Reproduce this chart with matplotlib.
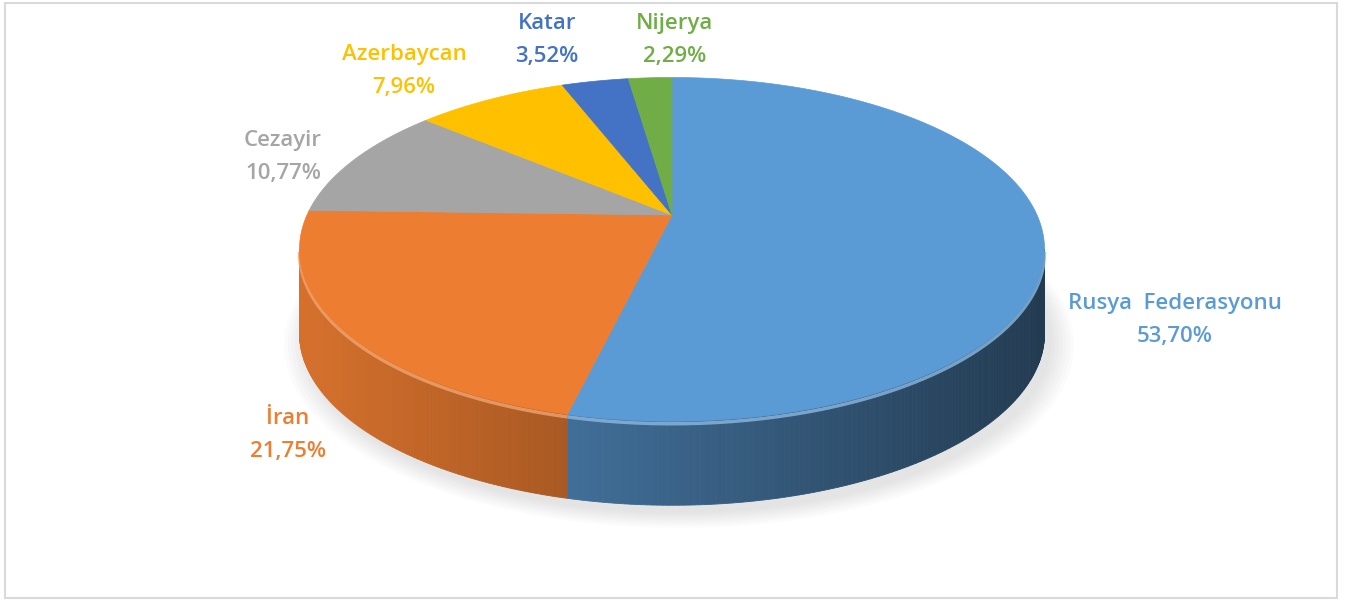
import numpy as np
import matplotlib.pyplot as plt
from matplotlib.colors import to_rgb
from matplotlib.patches import Polygon, Rectangle

# ---------------------------------------------------------------------------
# data: share of supply by country (%), clockwise from 12 o'clock
# ---------------------------------------------------------------------------
COUNTRIES = ["Rusya  Federasyonu", "İran", "Cezayir", "Azerbaycan", "Katar", "Nijerya"]
SHARES = [53.70, 21.75, 10.77, 7.96, 3.52, 2.29]
COLORS = ["#5B9BD5", "#ED7D31", "#A5A5A5", "#FFC000", "#4472C4", "#70AD47"]

# label anchor (pixel) per country -- layout only
LABEL_POS = [(1175, 320), (288, 435), (283, 157), (404, 71), (547, 40), (675, 40)]

W, H = 1352, 601
CX, CY = 672, 215          # centre of top face
A, B, K = 165.0, 365.0, 0.2  # vertical / horizontal radius, perspective
DEPTH = 84


def proj(theta, depth=0.0):
    t = np.radians(theta)
    u, v = np.sin(t), np.cos(t)
    s = 1.0 / (1.0 + K * v)
    return CX + B * u * s, CY - A * v * s + depth


def shade(color, x):
    f = 0.9 - 0.52 * (x - 300) / 745
    return tuple(np.clip(np.array(to_rgb(color)) * f, 0, 1))


def lighten(color, a):
    c = np.array(to_rgb(color))
    return tuple(c + (1 - c) * a)


fig = plt.figure(figsize=(W / 100, H / 100), dpi=100)
ax = fig.add_axes([0, 0, 1, 1])
ax.set_xlim(0, W)
ax.set_ylim(H, 0)
ax.axis("off")

ax.add_patch(Rectangle((5, 3), 1332, 595, fill=False, edgecolor="#D9D9D9", lw=1.5))

# soft shadow under the pie
full = np.linspace(0, 360, 240)
for sc in np.linspace(1.06, 1.0, 7):
    xs, ys = proj(full, DEPTH)
    xs = CX + (xs - CX) * sc + 7
    ys = CY + DEPTH * 0.6 + (ys - CY - DEPTH * 0.6) * sc + 8
    ax.add_patch(Polygon(np.c_[xs, ys], closed=True, facecolor="#8a8a8a",
                         edgecolor="none", alpha=0.03, zorder=1))

ends = np.cumsum(SHARES) / sum(SHARES) * 360
starts = np.r_[0, ends[:-1]]

# side walls (front half only)
th_r = np.degrees(np.arccos(-K))
th_l = 360 - th_r
for a0, a1, col in zip(starts, ends, COLORS):
    lo, hi = max(a0, th_r), min(a1, th_l)
    if hi <= lo:
        continue
    ts = np.linspace(lo, hi, max(int((hi - lo) * 1.5), 3))
    for t0, t1 in zip(ts[:-1], ts[1:]):
        x0, y0 = proj(t0)
        x1, y1 = proj(t1)
        c = shade(col, (x0 + x1) / 2)
        ax.add_patch(Polygon([(x0, y0), (x1, y1), (x1, y1 + DEPTH), (x0, y0 + DEPTH)],
                             closed=True, facecolor=c, edgecolor=c, lw=0.6, zorder=2))
    xs, ys = proj(ts, 2.5)
    ax.plot(xs, ys, color=lighten(col, 0.3), lw=2.5, alpha=0.8, zorder=3,
            solid_capstyle="butt")

# top faces
for a0, a1, col in zip(starts, ends, COLORS):
    ts = np.linspace(a0, a1, max(int((a1 - a0) * 2), 3))
    xs, ys = proj(ts)
    pts = np.r_[[[CX, CY]], np.c_[xs, ys]]
    ax.add_patch(Polygon(pts, closed=True, facecolor=col, edgecolor=col, lw=0.5, zorder=4))

# labels
for name, val, col, (lx, ly) in zip(COUNTRIES, SHARES, COLORS, LABEL_POS):
    txt = f"{name}\n{val:.2f}".replace(".", ",") + "%"
    ax.text(lx, ly, txt, color=col, ha="center", va="center", fontsize=16,
            fontweight="semibold", family="Open Sans", linespacing=1.7, zorder=5)

fig.savefig("out.png", dpi=100)
